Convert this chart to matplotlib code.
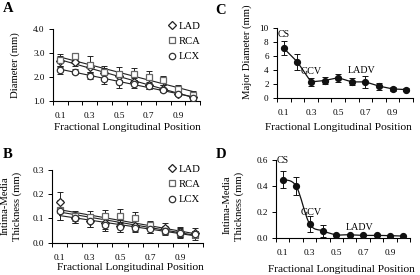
import numpy as np
import matplotlib
matplotlib.use("Agg")
import matplotlib.pyplot as plt
from matplotlib.path import Path
from matplotlib.patches import PathPatch

plt.rcParams['font.family'] = ['Liberation Serif', 'DejaVu Serif']

# ---------------- data ----------------
positions = [0.1, 0.2, 0.3, 0.4, 0.5, 0.6, 0.7, 0.8, 0.9, 1.0]
tick_labels = ["0.1", "", "0.3", "", "0.5", "", "0.7", "", "0.9", ""]

# Panel A: diameter (mm)
a_lad = [2.65, 2.60, 2.40, 2.15, 2.05, 1.80, 1.65, 1.50, 1.30, 1.15]
a_lad_err = [0.20, 0.15, 0.20, 0.20, 0.20, 0.15, 0.15, 0.15, 0.12, 0.10]
a_rca = [2.70, 2.85, 2.50, 2.20, 2.10, 2.10, 2.00, 1.85, 1.50, 1.25]
a_rca_err = [0.25, 0.15, 0.35, 0.25, 0.30, 0.25, 0.25, 0.20, 0.15, 0.15]
a_lcx = [2.28, 2.22, 2.05, 1.90, 1.80, 1.70, 1.60, 1.45, 1.30, 1.10]
a_lcx_err = [0.15, 0.10, 0.15, 0.20, 0.25, 0.15, 0.10, 0.10, 0.10, 0.10]

# Panel B: intima-media thickness (mm)
b_lad = [0.170, 0.100, 0.090, 0.080, 0.070, 0.070, 0.060, 0.060, 0.045, 0.040]
b_lad_err = [0.040, 0.020, 0.025, 0.025, 0.025, 0.020, 0.020, 0.020, 0.020, 0.020]
b_rca = [0.135, 0.110, 0.105, 0.110, 0.110, 0.100, 0.075, 0.050, 0.040, 0.030]
b_rca_err = [0.040, 0.020, 0.025, 0.025, 0.030, 0.025, 0.015, 0.020, 0.020, 0.020]
b_lcx = [0.130, 0.100, 0.090, 0.075, 0.065, 0.060, 0.055, 0.050, 0.040, 0.035]
b_lcx_err = [0.035, 0.020, 0.025, 0.025, 0.020, 0.015, 0.015, 0.015, 0.015, 0.015]

# Panel C: vein major diameter (mm)
c_val = [7.1, 5.15, 2.3, 2.5, 2.9, 2.3, 2.3, 1.7, 1.3, 1.2]
c_err = [1.0, 1.1, 0.6, 0.5, 0.6, 0.5, 0.8, 0.5, 0.3, 0.25]

# Panel D: vein intima-media thickness (mm)
d_val = [0.45, 0.40, 0.11, 0.055, 0.025, 0.025, 0.02, 0.02, 0.018, 0.015]
d_err = [0.065, 0.07, 0.06, 0.045, 0.0, 0.0, 0.0, 0.0, 0.0, 0.0]

series_names = ["LAD", "RCA", "LCX"]

# ---------------- figure ----------------
W, H = 420, 275
fig = plt.figure(figsize=(W / 100, H / 100), dpi=100)


def box(l, t, r, b):
    return [l / W, 1 - b / H, (r - l) / W, (b - t) / H]


def fx(x):
    return x / W


def fy(y):
    return 1 - y / H


TICK_FS = 6.6
LAB_FS = 7.7
XLAB_FS = 8.2

x = np.arange(len(positions))


def style_axis(ax, ymin, ymax, yticks, yfmt):
    for s in ("top", "right"):
        ax.spines[s].set_visible(False)
    for s in ("left", "bottom"):
        ax.spines[s].set_linewidth(0.8)
    ax.set_xlim(-0.5, len(positions) - 0.5)
    ax.set_ylim(ymin, ymax)
    ax.set_xticks(x)
    ax.set_xticklabels(tick_labels, fontsize=TICK_FS)
    ax.set_xticks(np.arange(-0.5, len(positions)), minor=True)
    ax.tick_params(axis="x", which="major", length=0, pad=8)
    ax.tick_params(axis="x", which="minor", length=3, width=0.7, direction="out")
    ax.set_yticks(yticks)
    ax.set_yticklabels([yfmt.format(v) for v in yticks], fontsize=TICK_FS)
    ax.tick_params(axis="y", length=3, width=0.7, direction="out", pad=3)


markers = ["D", "s", "o"]
msizes = [3.6, 4.6, 4.6]
mecols = ["#222222", "#666666", "#333333"]


def draw_regression_panel(ax, vals, errs):
    for v, e, m, ms, mc in zip(vals, errs, markers, msizes, mecols):
        ax.errorbar(x, v, yerr=e, fmt="none", ecolor="#222222",
                    elinewidth=0.7, capsize=2.2, capthick=0.7, zorder=2)
        coef = np.polyfit(x, v, 1)
        xx = np.array([x[0], x[-1]])
        ax.plot(xx, np.polyval(coef, xx), color="#222222", lw=0.8, zorder=3)
    handles = []
    for v, m, ms, mc, name in zip(vals, markers, msizes, mecols, series_names):
        h, = ax.plot(x, v, linestyle="none", marker=m, ms=ms, mfc="white",
                     mec=mc, mew=0.9, zorder=4, label=name)
        handles.append(h)
    return handles


def add_legend(ax, handles, left_px, top_px):
    ax.legend(handles=handles, loc="upper left",
              bbox_to_anchor=(fx(left_px), fy(top_px)),
              bbox_transform=fig.transFigure, frameon=False, fontsize=LAB_FS,
              handlelength=0.7, handletextpad=0.25, labelspacing=0.55,
              borderpad=0.2, borderaxespad=0)


# ---- Panel A ----
axA = fig.add_axes(box(53, 29, 200, 100.7))
style_axis(axA, 1.0, 4.0, [1.0, 2.0, 3.0, 4.0], "{:.1f}")
hA = draw_regression_panel(axA, [a_lad, a_rca, a_lcx], [a_lad_err, a_rca_err, a_lcx_err])
add_legend(axA, hA, 166, 19)
fig.text(fx(15), fy(65), "Diameter (mm)", rotation=90, ha="center",
         va="center", fontsize=LAB_FS)
fig.text(fx(127), fy(128), "Fractional Longitudinal Position", ha="center",
         va="center", fontsize=XLAB_FS)
fig.text(fx(3), fy(9), "A", fontsize=10.5, fontweight="bold", va="center")

# ---- Panel B ----
axB = fig.add_axes(box(52, 170, 203, 242.7))
style_axis(axB, 0.0, 0.3, [0.0, 0.1, 0.2, 0.3], "{:.1f}")
hB = draw_regression_panel(axB, [b_lad, b_rca, b_lcx], [b_lad_err, b_rca_err, b_lcx_err])
add_legend(axB, hB, 166, 162)
fig.text(fx(5), fy(206), "Intima-Media", rotation=90, ha="center",
         va="center", fontsize=LAB_FS)
fig.text(fx(17), fy(206), "Thickness (mm)", rotation=90, ha="center",
         va="center", fontsize=LAB_FS)
fig.text(fx(130), fy(268), "Fractional Longitudinal Position", ha="center",
         va="center", fontsize=XLAB_FS)
fig.text(fx(3), fy(154), "B", fontsize=10.5, fontweight="bold", va="center")

# ---- Panel C ----
axC = fig.add_axes(box(277, 28, 413, 98))
style_axis(axC, 0, 10, [0, 2, 4, 6, 8, 10], "{:d}")
axC.errorbar(x, c_val, yerr=c_err, fmt="none", ecolor="#111111",
             elinewidth=0.7, capsize=2.2, capthick=0.7, zorder=2)
axC.plot(x, c_val, color="#111111", lw=0.9, marker="o", ms=4.2,
         mfc="#111111", mec="#111111", zorder=3)
axC.text(0, 8.4, "CS", ha="center", va="bottom", fontsize=7.2)
axC.text(2.05, 3.2, "GCV", ha="center", va="bottom", fontsize=7.2)
axC.text(5.7, 3.3, "LADV", ha="center", va="bottom", fontsize=7.2)
fig.text(fx(247), fy(52), "Major Diameter (mm)", rotation=90, ha="center",
         va="center", fontsize=LAB_FS)
fig.text(fx(338), fy(128), "Fractional Longitudinal Position", ha="center",
         va="center", fontsize=XLAB_FS)
fig.text(fx(215), fy(11), "C", fontsize=10.5, fontweight="bold", va="center")

# ---- Panel D ----
axD = fig.add_axes(box(276, 160, 410, 238))
style_axis(axD, 0.0, 0.6, [0.0, 0.2, 0.4, 0.6], "{:.1f}")
dv = np.array(d_val, dtype=float)
de = np.array(d_err, dtype=float)
mask = de > 0
axD.errorbar(x[mask], dv[mask], yerr=de[mask], fmt="none", ecolor="#111111",
             elinewidth=0.7, capsize=2.2, capthick=0.7, zorder=2)
# smoothed (Catmull-Rom) line through the data points
pts = np.column_stack([x, dv])
verts = [pts[0]]
codes = [Path.MOVETO]
for i in range(len(pts) - 1):
    p0 = pts[i - 1] if i > 0 else pts[i]
    p1 = pts[i]
    p2 = pts[i + 1]
    p3 = pts[i + 2] if i + 2 < len(pts) else pts[i + 1]
    c1 = p1 + (p2 - p0) / 6.0
    c2 = p2 - (p3 - p1) / 6.0
    verts += [c1, c2, p2]
    codes += [Path.CURVE4] * 3
axD.add_patch(PathPatch(Path(verts, codes), facecolor="none",
                        edgecolor="#111111", lw=0.9, zorder=3))
axD.plot(x, dv, linestyle="none", marker="o", ms=4.2, mfc="#111111",
         mec="#111111", zorder=4)
axD.text(0.0, 0.56, "CS", ha="center", va="bottom", fontsize=7.2)
axD.text(2.1, 0.165, "GCV", ha="center", va="bottom", fontsize=7.2)
axD.text(5.75, 0.045, "LADV", ha="center", va="bottom", fontsize=7.2)
fig.text(fx(227), fy(205), "Intima-Media", rotation=90, ha="center",
         va="center", fontsize=LAB_FS)
fig.text(fx(239), fy(206), "Thickness (mm)", rotation=90, ha="center",
         va="center", fontsize=LAB_FS)
fig.text(fx(341), fy(270), "Fractional Longitudinal Position", ha="center",
         va="center", fontsize=XLAB_FS)
fig.text(fx(216), fy(154), "D", fontsize=10.5, fontweight="bold", va="center")

fig.savefig("out.png", dpi=100)
